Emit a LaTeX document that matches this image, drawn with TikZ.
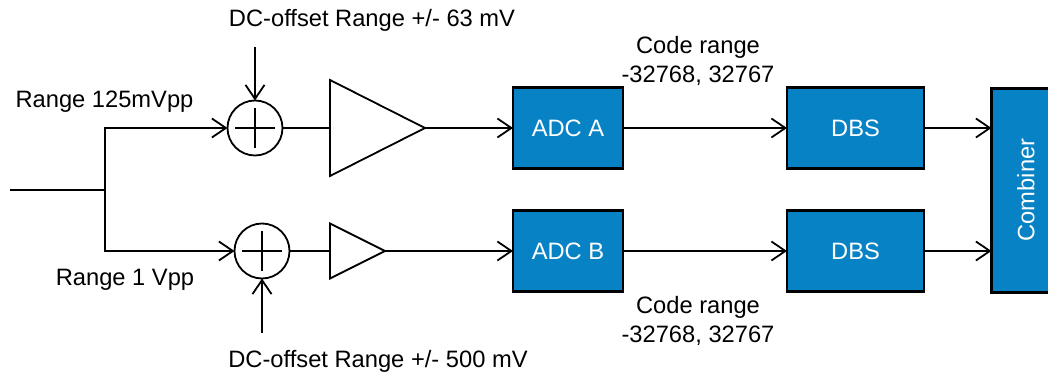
\documentclass[tikz,border=0pt]{standalone}
\usepackage{fontspec}
\setmainfont{Liberation Sans}
\usetikzlibrary{positioning,shapes.geometric,arrows.meta}

\begin{document}
\begin{tikzpicture}[
  x=1pt,y=-1pt,
  font=\fontsize{23.7}{29}\selectfont,
  every path/.style={line width=1.8pt},
  sig/.style={-{Straight Barb[length=14pt,width=19pt,line width=1.8pt]}},
  myblock/.style={draw=black,line width=2.2pt,fill=blockblue,text=white,inner sep=0pt,outer sep=0pt},
  adc/.style={myblock,minimum width=110pt,minimum height=81pt},
  dbs/.style={myblock,minimum width=137pt,minimum height=81pt},
  sumnode/.style={draw,circle,minimum size=55pt,inner sep=0pt,outer sep=0pt,
    path picture={
      \draw ([xshift=-20pt]path picture bounding box.center) -- ([xshift=20pt]path picture bounding box.center);
      \draw ([yshift=-20pt]path picture bounding box.center) -- ([yshift=20pt]path picture bounding box.center);
    }},
  amp/.style={draw,isosceles triangle,isosceles triangle stretches,inner sep=0pt,outer sep=0pt,anchor=lower side},
  lbl/.style={inner sep=0pt,align=center}
]
\definecolor{blockblue}{HTML}{0782C4}
\useasboundingbox (0,0) rectangle (1048,374);

% upper path
\node[sumnode] (sumA) at (255,128) {};
\node[amp,minimum width=96pt,minimum height=95pt] (ampA) at (330,128) {};
\node[adc] (adcA) at (568,128) {ADC A};
\node[dbs] (dbsA) at (855.5,128) {DBS};

% lower path
\node[sumnode] (sumB) at (262,251) {};
\node[amp,minimum width=55pt,minimum height=55pt] (ampB) at (330,251) {};
\node[adc] (adcB) at (568,251) {ADC B};
\node[dbs] (dbsB) at (855.5,251) {DBS};

\node[myblock,minimum width=70pt,minimum height=204pt] (comb) at (1026.5,190.5) {};
\node[lbl,text=white,rotate=90] (combtxt) at (1026,190) {Combiner};

\coordinate (in) at (10,190);
\coordinate (split) at (105,190);
\coordinate (offA) at (255,47);
\coordinate (offB) at (262,333);

\draw (in) -- (split);
\draw[sig] (split) |- (sumA);
\draw[sig] (split) |- (sumB);
\draw[sig] (offA) -- (sumA);
\draw[sig] (offB) -- (sumB);
\draw (sumA) -- (ampA.lower side);
\draw (sumB) -- (ampB.lower side);
\draw[sig] (ampA.apex) -- (adcA);
\draw[sig] (ampB.apex) -- (adcB);
\draw[sig] (adcA) -- (dbsA);
\draw[sig] (adcB) -- (dbsB);
\draw[sig] (dbsA.east) -- (comb.west |- dbsA.east);
\draw[sig] (dbsB.east) -- (comb.west |- dbsB.east);

\node[lbl] (rangeA) at (104.5,102) {Range 125mVpp};
\node[lbl] (rangeB) at (125,279.5) {Range 1 Vpp};
\node[lbl] (dcA) at (372,20) {DC-offset Range +/- 63 mV};
\node[lbl] (dcB) at (378,361.5) {DC-offset Range +/- 500 mV};
\node[lbl] (codeA) at (698,61) {Code range\\-32768, 32767};
\node[lbl] (codeB) at (698,320.5) {Code range\\-32768, 32767};
\end{tikzpicture}
\end{document}
